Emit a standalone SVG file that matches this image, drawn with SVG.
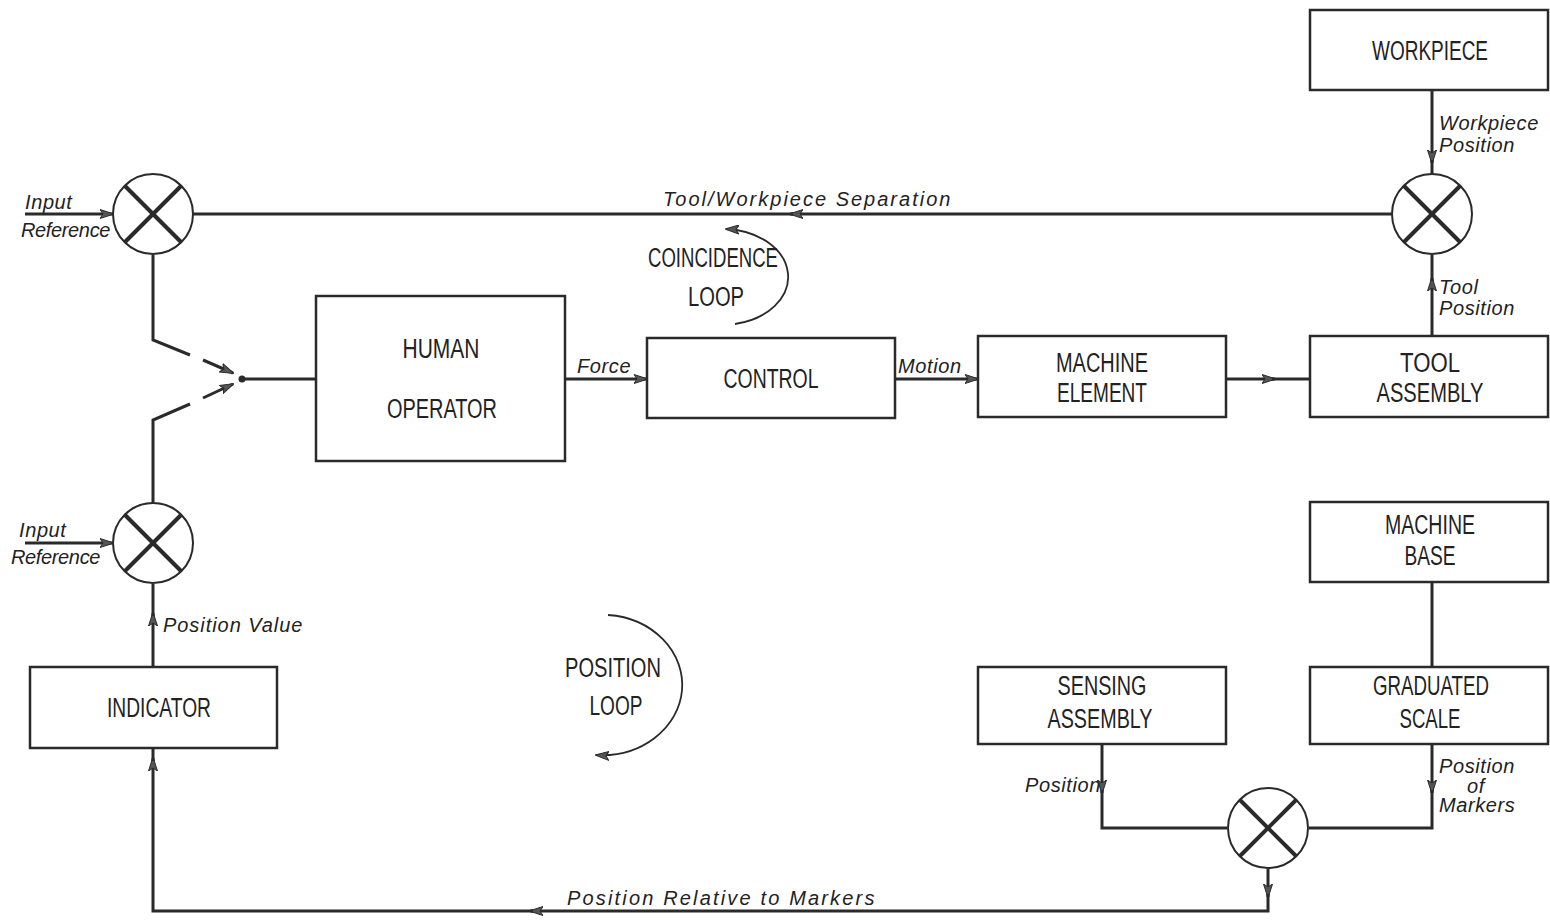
<svg xmlns="http://www.w3.org/2000/svg" width="1550" height="921" viewBox="0 0 1550 921">
<style>
.box{fill:#fff;stroke:#2a2a2a;stroke-width:2.5}
.ln{fill:none;stroke:#2a2a2a;stroke-width:3}
.thin{fill:none;stroke:#2a2a2a;stroke-width:1.8}
.t{font-family:"Liberation Sans","DejaVu Sans",sans-serif;font-size:27px;fill:#222;text-anchor:middle}
.it{font-family:"Liberation Sans","DejaVu Sans",sans-serif;font-style:italic;font-size:20px;letter-spacing:0.6px;fill:#222}
.x{fill:#fff;stroke:#2a2a2a;stroke-width:2}
.xl{stroke:#2a2a2a;stroke-width:4}
</style>
<defs>
<marker id="a" viewBox="0 0 14 10" refX="13" refY="5" markerWidth="14" markerHeight="10" markerUnits="userSpaceOnUse" orient="auto">
<path d="M0 0.5 L14 5 L0 9.5 L3 5 Z" fill="#555" stroke="#2a2a2a" stroke-width="1"/>
</marker>
<g id="sum">
<circle r="40" class="x"/>
<line x1="-28" y1="-28" x2="28" y2="28" class="xl"/>
<line x1="28" y1="-28" x2="-28" y2="28" class="xl"/>
</g>
</defs>
<rect width="1550" height="921" fill="#fff"/>

<g id="connectors">
<path class="ln" d="M1432 90 L1432 163" marker-end="url(#a)"/>
<path class="ln" d="M1432 160 L1432 174"/>
<path class="ln" d="M1432 336 L1432 278" marker-end="url(#a)"/>
<path class="ln" d="M1432 281 L1432 255"/>
<path class="ln" d="M1392 214 L790 214" marker-end="url(#a)"/>
<path class="ln" d="M793 214 L193 214"/>
<path class="ln" d="M25 214 L113 214" marker-end="url(#a)"/>
<path class="ln" d="M25 543 L113 543" marker-end="url(#a)"/>
<path class="ln" d="M153 255 L153 340 L190 355"/>
<path class="ln" d="M203 360 L233 373" marker-end="url(#a)"/>
<path class="ln" d="M153 503 L153 420 L190 404"/>
<path class="ln" d="M203 398 L233 384" marker-end="url(#a)"/>
<circle cx="242" cy="379" r="3.5" fill="#2a2a2a"/>
<path class="ln" d="M242 379 L316 379"/>
<path class="ln" d="M565 379 L647 379" marker-end="url(#a)"/>
<path class="ln" d="M895 379 L978 379" marker-end="url(#a)"/>
<path class="ln" d="M1226 379 L1275 379" marker-end="url(#a)"/>
<path class="ln" d="M1272 379 L1310 379"/>
<path class="ln" d="M153 667 L153 613" marker-end="url(#a)"/>
<path class="ln" d="M153 616 L153 584"/>
<path class="ln" d="M1432 582 L1432 667"/>
<path class="ln" d="M1102 744 L1102 793" marker-end="url(#a)"/>
<path class="ln" d="M1102 790 L1102 828 L1227 828"/>
<path class="ln" d="M1432 744 L1432 793" marker-end="url(#a)"/>
<path class="ln" d="M1432 790 L1432 828 L1309 828"/>
<path class="ln" d="M1268 869 L1268 897" marker-end="url(#a)"/>
<path class="ln" d="M1268 894 L1268 911 L530 911" marker-end="url(#a)"/>
<path class="ln" d="M533 911 L153 911 L153 758" marker-end="url(#a)"/>
<path class="ln" d="M153 761 L153 748"/>
<path class="thin" d="M735 324 A 66 48 0 0 0 726 229" marker-end="url(#a)"/>
<path class="thin" d="M608 615 A 80 70 0 0 1 596 755" marker-end="url(#a)"/>
</g>

<g id="S1"><use href="#sum" x="153" y="214"/></g>
<g id="S2"><use href="#sum" x="1432" y="214"/></g>
<g id="S3"><use href="#sum" x="153" y="543"/></g>
<g id="S4"><use href="#sum" x="1268" y="828"/></g>

<g id="workpiece"><rect class="box" x="1310" y="10" width="238" height="80"/><text class="t" x="1430" y="60" textLength="116" lengthAdjust="spacingAndGlyphs">WORKPIECE</text></g>
<g id="human"><rect class="box" x="316" y="296" width="249" height="165"/><text class="t" x="441" y="358" textLength="77" lengthAdjust="spacingAndGlyphs">HUMAN</text><text class="t" x="442" y="418" textLength="110" lengthAdjust="spacingAndGlyphs">OPERATOR</text></g>
<g id="control"><rect class="box" x="647" y="338" width="248" height="80"/><text class="t" x="771" y="388" textLength="95" lengthAdjust="spacingAndGlyphs">CONTROL</text></g>
<g id="machine-element"><rect class="box" x="978" y="336" width="248" height="81"/><text class="t" x="1102" y="372" textLength="92" lengthAdjust="spacingAndGlyphs">MACHINE</text><text class="t" x="1102" y="402" textLength="90" lengthAdjust="spacingAndGlyphs">ELEMENT</text></g>
<g id="tool"><rect class="box" x="1310" y="336" width="238" height="81"/><text class="t" x="1430" y="372" textLength="60" lengthAdjust="spacingAndGlyphs">TOOL</text><text class="t" x="1430" y="402" textLength="107" lengthAdjust="spacingAndGlyphs">ASSEMBLY</text></g>
<g id="machine-base"><rect class="box" x="1310" y="502" width="238" height="80"/><text class="t" x="1430" y="534" textLength="90" lengthAdjust="spacingAndGlyphs">MACHINE</text><text class="t" x="1430" y="565" textLength="51" lengthAdjust="spacingAndGlyphs">BASE</text></g>
<g id="indicator"><rect class="box" x="30" y="667" width="247" height="81"/><text class="t" x="159" y="717" textLength="104" lengthAdjust="spacingAndGlyphs">INDICATOR</text></g>
<g id="sensing"><rect class="box" x="978" y="667" width="248" height="77"/><text class="t" x="1102" y="695" textLength="89" lengthAdjust="spacingAndGlyphs">SENSING</text><text class="t" x="1100" y="728" textLength="105" lengthAdjust="spacingAndGlyphs">ASSEMBLY</text></g>
<g id="graduated"><rect class="box" x="1310" y="667" width="238" height="77"/><text class="t" x="1431" y="695" textLength="116" lengthAdjust="spacingAndGlyphs">GRADUATED</text><text class="t" x="1430" y="728" textLength="61" lengthAdjust="spacingAndGlyphs">SCALE</text></g>

<g id="labels">
<text class="t" x="713" y="267" textLength="130" lengthAdjust="spacingAndGlyphs">COINCIDENCE</text>
<text class="t" x="716" y="306" textLength="56" lengthAdjust="spacingAndGlyphs">LOOP</text>
<text class="t" x="613" y="677" textLength="96" lengthAdjust="spacingAndGlyphs">POSITION</text>
<text class="t" x="616" y="715" textLength="53" lengthAdjust="spacingAndGlyphs">LOOP</text>
<text class="it" x="663" y="206" textLength="288">Tool/Workpiece  Separation</text>
<text class="it" x="1439" y="130">Workpiece</text>
<text class="it" x="1439" y="152">Position</text>
<text class="it" x="1439" y="294">Tool</text>
<text class="it" x="1439" y="315">Position</text>
<text class="it" x="25" y="209">Input</text>
<text class="it" x="21" y="237" textLength="90">Reference</text>
<text class="it" x="19" y="537">Input</text>
<text class="it" x="11" y="564" textLength="90">Reference</text>
<text class="it" x="163" y="632" textLength="140">Position Value</text>
<text class="it" x="577" y="373">Force</text>
<text class="it" x="898" y="373">Motion</text>
<text class="it" x="1101" y="792" text-anchor="end">Position</text>
<text class="it" x="1439" y="773">Position</text>
<text class="it" x="1467" y="793">of</text>
<text class="it" x="1439" y="812">Markers</text>
<text class="it" x="567" y="905" textLength="308">Position  Relative  to  Markers</text>
</g>
</svg>
